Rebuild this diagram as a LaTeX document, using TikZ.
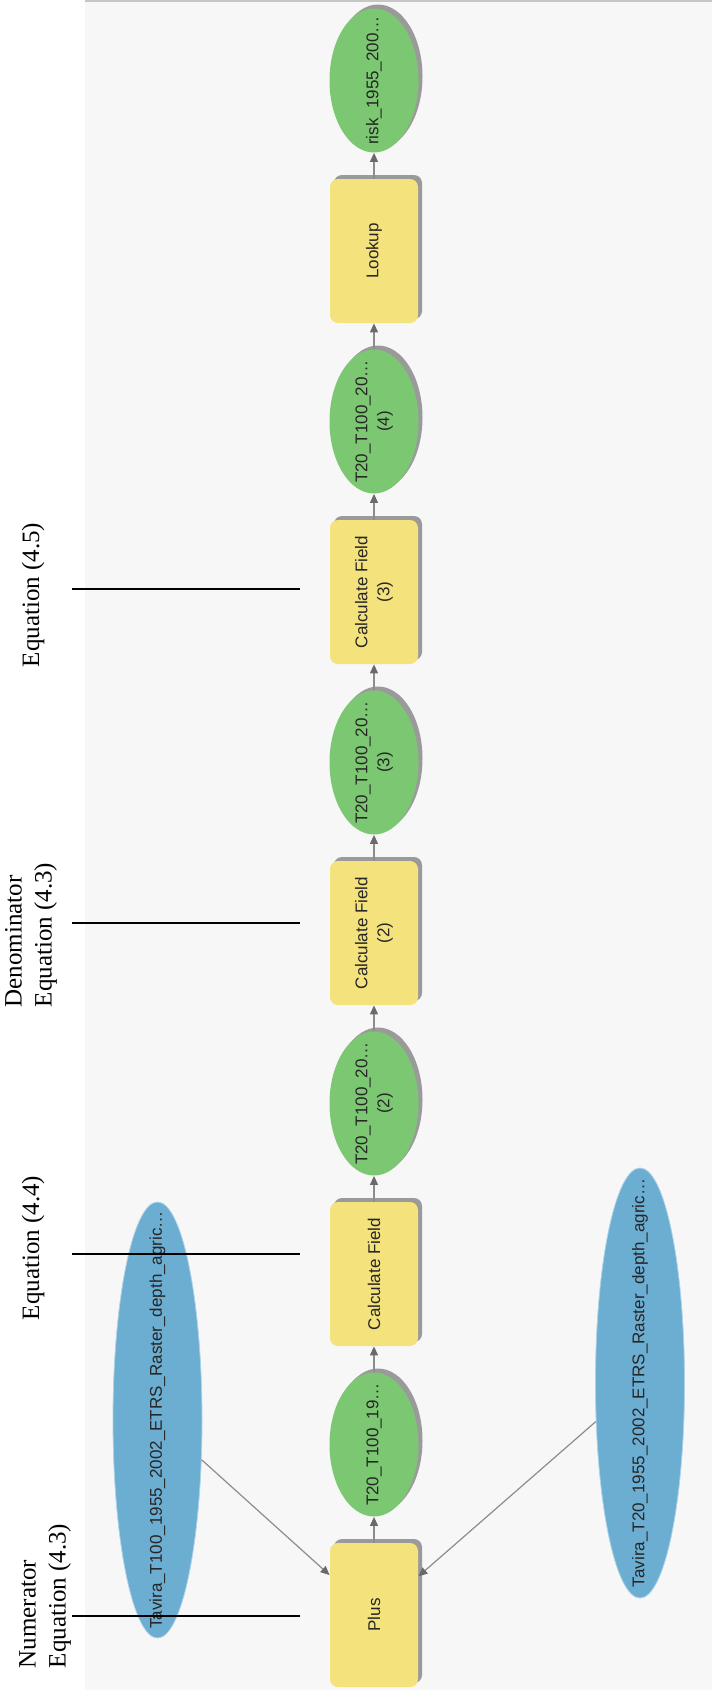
\documentclass[tikz,border=0pt]{standalone}
\usepackage{fontspec}
\setmainfont{Liberation Serif}
\setsansfont{Liberation Sans}
\usepackage{tikz}
\usetikzlibrary{arrows.meta,shapes.geometric}

\definecolor{canvasbg}{HTML}{F7F7F7}
\definecolor{toolyellow}{HTML}{F4E27C}
\definecolor{datagreen}{HTML}{7CC872}
\definecolor{inputblue}{HTML}{6CADD2}
\definecolor{shadowgray}{HTML}{9A9A9A}
\definecolor{flowgray}{HTML}{8C8C8C}
\definecolor{flowhead}{HTML}{6A6A6A}

% keeps the ellipse from growing round long names
\newcommand{\nodetxt}[1]{\makebox[0pt]{\begin{tabular}{@{}c@{}}#1\end{tabular}}}

\begin{document}
\begin{tikzpicture}[
      x=0.5pt, y=-0.5pt,
      nodefont/.style={font=\sffamily\fontsize{8.5}{11}\selectfont, text=black!85},
      shadowed/.style={preaction={fill=shadowgray, transform canvas={xshift=2pt, yshift=2pt}}},
      tool/.style={rectangle, rounded corners=4pt, fill=toolyellow, minimum width=72pt, minimum height=44pt,
        inner sep=2pt, rotate=90, align=center, nodefont, shadowed},
      data/.style={ellipse, fill=datagreen, minimum width=72pt, minimum height=44.5pt,
        inner sep=1pt, rotate=90, nodefont, shadowed},
      input/.style={ellipse, fill=inputblue, draw=inputblue!55!white, line width=0.4pt,
        minimum height=44.5pt, inner sep=1pt, rotate=90, nodefont},
      flow/.style={draw=flowgray, line width=0.6pt, -{Triangle[length=4.5pt, width=4pt, color=flowhead]}},
      eqlabel/.style={rotate=90, align=left, inner sep=0pt, font=\fontsize{12.5}{15}\selectfont},
      eqline/.style={line width=1.3pt},
    ]
      \useasboundingbox (0,0) rectangle (712,1693);
      \fill[canvasbg] (85,0) rectangle (712,1690);
      \draw[gray!45, line width=1pt] (85,1) -- (712,1);

      % model chain
      \node[tool] (plus) at (374,1615) {Plus};
      \node[data] (t19) at (374,1444.5) {\nodetxt{T20\_T100\_19\ldots}};
      \node[tool] (cf1) at (374,1274) {Calculate Field};
      \node[data] (t2) at (374,1103.5) {\nodetxt{T20\_T100\_20\ldots\\(2)}};
      \node[tool] (cf2) at (374,933) {Calculate Field\\(2)};
      \node[data] (t3) at (374,762.5) {\nodetxt{T20\_T100\_20\ldots\\(3)}};
      \node[tool] (cf3) at (374,592) {Calculate Field\\(3)};
      \node[data] (t4) at (374,421.5) {\nodetxt{T20\_T100\_20\ldots\\(4)}};
      \node[tool] (lookup) at (374,251) {Lookup};
      \node[data] (risk) at (374,80.5) {\nodetxt{risk\_1955\_200\ldots}};

      % inputs
      \node[input, minimum width=218pt] (t100in) at (157.5,1420)
        {\nodetxt{Tavira\_T100\_1955\_2002\_ETRS\_Raster\_depth\_agric\ldots}};
      \node[input, minimum width=215pt] (t20in) at (640,1383)
        {\nodetxt{Tavira\_T20\_1955\_2002\_ETRS\_Raster\_depth\_agric\ldots}};

      \draw[flow] (t100in) -- (plus);
      \draw[flow] (t20in) -- (plus);
      \draw[flow] (plus) -- (t19);
      \draw[flow] (t19) -- (cf1);
      \draw[flow] (cf1) -- (t2);
      \draw[flow] (t2) -- (cf2);
      \draw[flow] (cf2) -- (t3);
      \draw[flow] (t3) -- (cf3);
      \draw[flow] (cf3) -- (t4);
      \draw[flow] (t4) -- (lookup);
      \draw[flow] (lookup) -- (risk);

      % equation labels
      \node[eqlabel] (numlbl) at (45,1596) {Numerator\\Equation (4.3)};
      \node[eqlabel] (eq44lbl) at (33,1248) {Equation (4.4)};
      \node[eqlabel] (denlbl) at (31,935) {Denominator\\Equation (4.3)};
      \node[eqlabel] (eq45lbl) at (33,595) {Equation (4.5)};

      \coordinate (numA) at (72,1616);   \coordinate (numB) at (300,1616);
      \coordinate (eq44A) at (72,1254);  \coordinate (eq44B) at (300,1254);
      \coordinate (denA) at (72,923);    \coordinate (denB) at (300,923);
      \coordinate (eq45A) at (72,589);   \coordinate (eq45B) at (300,589);
      \draw[eqline] (numA) -- (numB);
      \draw[eqline] (eq44A) -- (eq44B);
      \draw[eqline] (denA) -- (denB);
      \draw[eqline] (eq45A) -- (eq45B);
    \end{tikzpicture}
\end{document}
